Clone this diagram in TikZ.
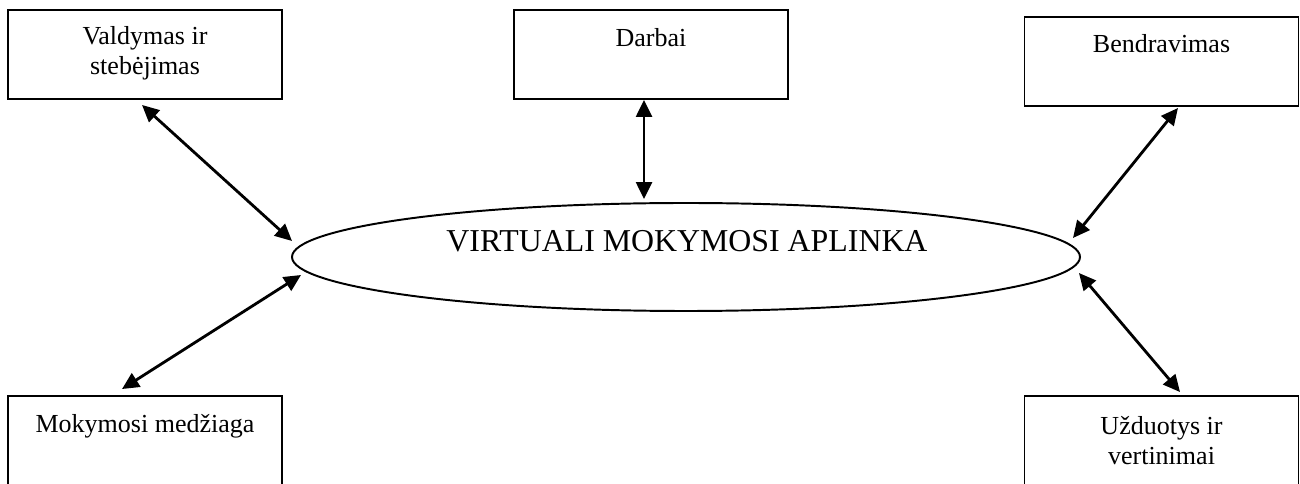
\documentclass[tikz,border=0pt]{standalone}
\usepackage{fontspec}
\setmainfont{Liberation Serif}
\usetikzlibrary{arrows.meta,shapes.geometric,calc}

\begin{document}
\begin{tikzpicture}[x=0.4615pt,y=-0.4615pt,
  box/.style={draw, line width=0.9pt, rectangle, inner sep=0,
    minimum width=274*0.4615pt, minimum height=89*0.4615pt},
  boxtext/.style={anchor=north, align=center, inner sep=0,
    font=\fontsize{12}{13.8}\selectfont},
  hub/.style={draw, ellipse, line width=0.9pt, inner sep=0,
    minimum width=788*0.4615pt, minimum height=108*0.4615pt},
  link/.style={line width=1.3pt,
    {Triangle[length=7.8pt,width=7.3pt]}-{Triangle[length=7.8pt,width=7.3pt]}},
]
\useasboundingbox (0,0) rectangle (1300,484);

% central ellipse
\node[hub] (V) at (686,257) {};
\node[anchor=base, inner sep=0, font=\fontsize{14.7}{16}\selectfont]
  (Vtext) at ($(V.center)+(1,-5)$) {VIRTUALI MOKYMOSI APLINKA};

% surrounding boxes
\node[box] (A) at (145,54.5) {};
\node[box] (B) at (651,54.5) {};
\node[box] (C) at (1161.5,61.5) {};
\node[box] (D) at (145,440.5) {};
\node[box] (E) at (1161.5,440.5) {};

\node[boxtext] (At) at ($(A.north)+(0,17)$) {Valdymas ir\\stebėjimas};
\node[boxtext] (Bt) at ($(B.north)+(0,19)$) {Darbai};
\node[boxtext] (Ct) at ($(C.north)+(0,18)$) {Bendravimas};
\node[boxtext] (Dt) at ($(D.north)+(0,19)$) {Mokymosi medžiaga};
\node[boxtext] (Et) at ($(E.north)+(0,21)$) {Užduotys ir\\vertinimai};

% two-way links
\draw[link] ($(A.south)+(-3,5)$) -- ($(V.west)+(1,-16)$);
\draw[link] ($(B.south)+(-7,0)$) -- ($(V.north)+(-42,-3)$);
\draw[link] ($(C.south)+(16.5,1)$) -- ($(V.east)+(-8,-19)$);
\draw[link] ($(D.north)+(-23,-6)$) -- ($(V.west)+(10,18)$);
\draw[link] ($(E.north)+(18.5,-3)$) -- ($(V.east)+(-2,16)$);
\end{tikzpicture}
\end{document}
